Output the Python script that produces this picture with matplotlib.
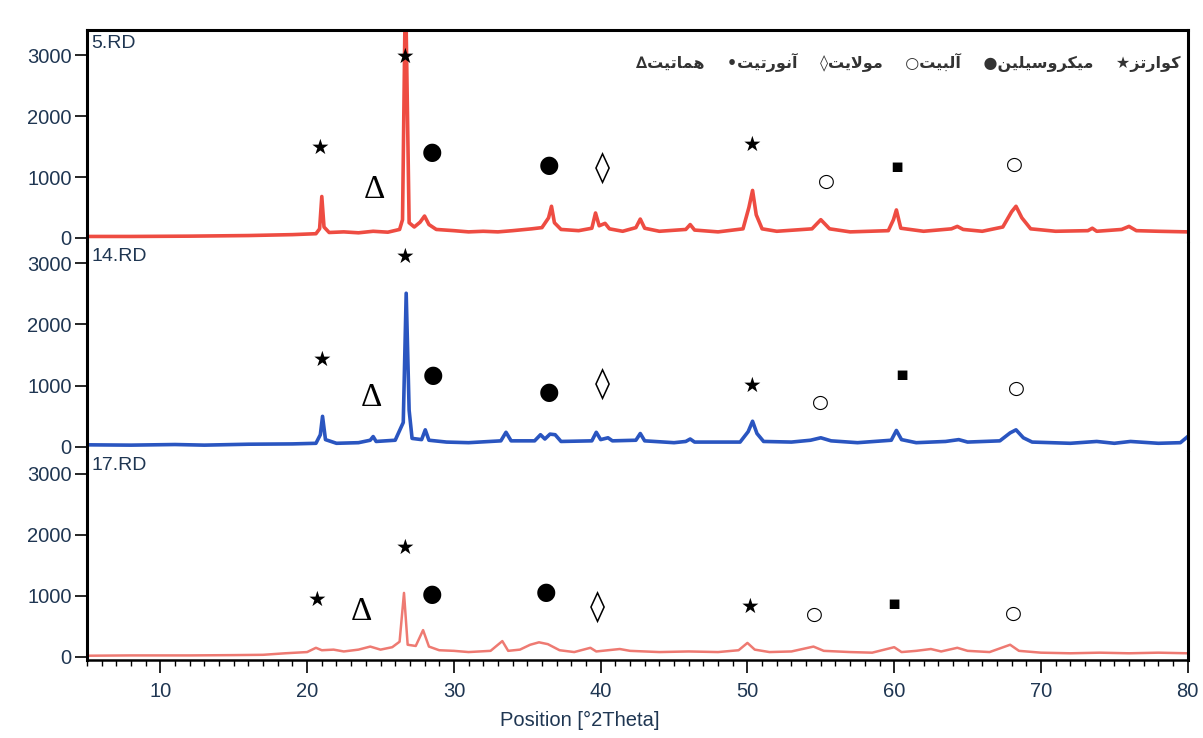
import numpy as np
import matplotlib
matplotlib.use("Agg")
import matplotlib.pyplot as plt
from matplotlib.ticker import MultipleLocator

plt.rcParams['font.family'] = ['Liberation Sans Narrow', 'Liberation Sans', 'DejaVu Sans']

# --- XRD patterns (2theta, counts) ---
tt_5 = [5, 8, 12, 16, 19, 20.6, 20.85, 21.0, 21.15, 21.5, 22.5, 23.5, 24.5, 25.5, 26.3, 26.5,
        26.7, 26.95, 27.3, 27.7, 28.0, 28.3, 28.8, 30, 31, 32, 33, 34, 35.3, 36.0, 36.45, 36.65,
        36.85, 37.3, 38.5, 39.4, 39.65, 39.9, 40.3, 40.6, 41.5, 42.4, 42.7, 43.0, 44, 45.8, 46.1,
        46.4, 48, 49.7, 50.1, 50.35, 50.6, 51.0, 52, 54.4, 55.0, 55.6, 57, 59.6, 59.95, 60.15,
        60.45, 62, 63.9, 64.3, 64.7, 66, 67.4, 68.0, 68.3, 68.7, 69.3, 71, 73.2, 73.5, 73.8,
        75.5, 76.0, 76.5, 78, 80]
cnt_5 = [25, 25, 30, 40, 55, 70, 150, 680, 180, 90, 100, 85, 110, 95, 140, 300,
         4200, 250, 180, 260, 360, 220, 140, 120, 100, 110, 100, 120, 150, 170, 330, 520,
         250, 140, 120, 160, 410, 200, 240, 150, 110, 170, 310, 160, 110, 140, 220,
         130, 100, 150, 500, 780, 380, 150, 110, 150, 300, 150, 100, 120, 300, 460,
         160, 110, 150, 190, 140, 110, 180, 430, 520, 330, 150, 110, 120, 160, 110,
         140, 190, 120, 110, 100]

tt_14 = [5, 8, 11, 13, 16, 19, 20.6, 20.9, 21.05, 21.25, 22, 23.5, 24.3, 24.5, 24.7, 26.0,
         26.55, 26.75, 26.95, 27.15, 27.8, 28.05, 28.3, 29.5, 31, 33.2, 33.55, 33.9, 35.5, 35.9,
         36.2, 36.55, 36.9, 37.3, 39.4, 39.7, 40.0, 40.5, 40.8, 42.4, 42.7, 43.0, 45, 45.8, 46.1,
         46.4, 49.5, 50.05, 50.35, 50.65, 51.1, 53, 54.3, 55.0, 55.7, 57.5, 59.8, 60.15, 60.5,
         61.5, 63.5, 64.4, 65, 67.2, 67.9, 68.3, 68.8, 69.4, 72, 73.8, 75, 76.1, 78, 79.5, 80]
cnt_14 = [35, 30, 40, 30, 45, 50, 60, 200, 500, 120, 60, 70, 110, 170, 90, 110,
          400, 2510, 600, 140, 120, 280, 110, 80, 70, 100, 240, 100, 100, 200,
          130, 210, 200, 90, 100, 240, 120, 150, 100, 110, 220, 100, 70, 90, 130,
          80, 80, 250, 420, 220, 90, 80, 110, 150, 100, 70, 110, 270, 120,
          70, 90, 120, 80, 100, 230, 280, 150, 80, 60, 90, 60, 90, 60, 70, 170]

tt_17 = [5, 8, 12, 15, 17, 18.5, 20.0, 20.6, 21.0, 21.8, 22.5, 23.5, 24.3, 25, 25.8, 26.3,
         26.6, 26.85, 27.4, 27.9, 28.3, 29, 30, 31, 32.5, 33.3, 33.7, 34.5, 35.2, 35.8, 36.4,
         37.2, 38.2, 39.3, 39.7, 40.5, 41.3, 42, 44, 46, 48, 49.4, 50.0, 50.5, 51.5, 53, 54.5,
         55.2, 57, 58.5, 60.0, 60.5, 61.5, 62.5, 63.2, 64.3, 65, 66.5, 67.9, 68.5, 70, 72, 74,
         76, 78, 80]
cnt_17 = [20, 25, 25, 30, 35, 60, 80, 150, 110, 120, 90, 120, 170, 120, 160, 250,
          1050, 200, 180, 440, 170, 110, 100, 80, 100, 260, 100, 120, 200, 240, 210,
          110, 80, 150, 90, 110, 130, 100, 80, 90, 80, 110, 230, 120, 80, 90, 170,
          100, 80, 70, 160, 80, 100, 130, 90, 150, 100, 80, 200, 100, 70, 60, 70,
          60, 70, 60]

# --- phase marks: symbol, 2theta, height ---
marks_5 = [('★', 20.9, 1475), ('★', 26.7, 2970), ('Δ', 24.6, 790), ('●', 28.5, 1410),
           ('●', 36.5, 1200), ('◊', 40.1, 1150), ('★', 50.3, 1525), ('○', 55.4, 920),
           ('▪', 60.2, 1180), ('○', 68.2, 1200)]
marks_14 = [('★', 26.7, 3100), ('★', 21.0, 1420), ('●', 28.6, 1175), ('Δ', 24.4, 800),
            ('●', 36.5, 900), ('◊', 40.1, 1030), ('★', 50.3, 995), ('○', 55.0, 720),
            ('▪', 60.5, 1190), ('○', 68.3, 960)]
marks_17 = [('★', 26.7, 1790), ('★', 20.7, 935), ('Δ', 23.7, 740), ('●', 28.5, 1035),
            ('●', 36.3, 1065), ('◊', 39.8, 820), ('★', 50.2, 820), ('○', 54.6, 690),
            ('▪', 60.0, 870), ('○', 68.1, 720)]

phases = ['کوارتز', 'میکروسیلین', 'آلبیت', 'مولایت', 'آنورتیت', 'هماتیت']
phase_syms = ['★', '●', '○', '◊', '•', '∆']

# Arabic-script shaping (matplotlib has no complex text layout)
FORMS = {
    'ا': ('\uFE8D', '\uFE8E', None, None),
    'آ': ('\uFE81', '\uFE82', None, None),
    'ب': ('\uFE8F', '\uFE90', '\uFE91', '\uFE92'),
    'ت': ('\uFE95', '\uFE96', '\uFE97', '\uFE98'),
    'ر': ('\uFEAD', '\uFEAE', None, None),
    'ز': ('\uFEAF', '\uFEB0', None, None),
    'س': ('\uFEB1', '\uFEB2', '\uFEB3', '\uFEB4'),
    'ل': ('\uFEDD', '\uFEDE', '\uFEDF', '\uFEE0'),
    'م': ('\uFEE1', '\uFEE2', '\uFEE3', '\uFEE4'),
    'ن': ('\uFEE5', '\uFEE6', '\uFEE7', '\uFEE8'),
    'ه': ('\uFEE9', '\uFEEA', '\uFEEB', '\uFEEC'),
    'و': ('\uFEED', '\uFEEE', None, None),
    'ک': ('\uFB8E', '\uFB8F', '\uFB90', '\uFB91'),
    'ی': ('\uFBFC', '\uFBFD', '\uFBFE', '\uFBFF'),
}


def shape(word):
    out = []
    i = 0
    while i < len(word):
        ch = word[i]
        prev = i > 0 and word[i - 1] in FORMS and FORMS[word[i - 1]][2] is not None
        if ch == 'ل' and i + 1 < len(word) and word[i + 1] == 'ا':
            out.append('\uFEFC' if prev else '\uFEFB')
            i += 2
            continue
        f = FORMS[ch]
        nxt = f[2] is not None and i + 1 < len(word) and word[i + 1] in FORMS
        if prev and nxt:
            out.append(f[3])
        elif prev:
            out.append(f[1])
        elif nxt:
            out.append(f[2])
        else:
            out.append(f[0])
        i += 1
    return ''.join(reversed(out))


legend_str = '    '.join(s + shape(p) for p, s in reversed(list(zip(phases, phase_syms))))

txt_col = '#1f3652'
fig = plt.figure(figsize=(12.03, 7.38), dpi=100)
left, width = 0.0723, 0.915
ax1 = fig.add_axes([left, 0.6734, width, 0.2859])
ax2 = fig.add_axes([left, 0.3902, width, 0.2805])
ax3 = fig.add_axes([left, 0.1057, width, 0.2818])

panels = [(ax1, tt_5, cnt_5, '#ee4c42', 2.6, marks_5, '5.RD', (-50, 3410)),
          (ax2, tt_14, cnt_14, '#2a55c0', 2.6, marks_14, '14.RD', (-50, 3330)),
          (ax3, tt_17, cnt_17, '#ee7a72', 1.8, marks_17, '17.RD', (-50, 3360))]

sym_size = {'★': 15, '●': 17, '◊': 22, '○': 14, '▪': 14, 'Δ': 24}
for ax, tt, cnt, col, lw, marks, name, ylim in panels:
    ax.plot(tt, cnt, color=col, lw=lw, solid_joinstyle='round')
    ax.set_xlim(5, 80)
    ax.set_ylim(*ylim)
    ax.set_yticks([0, 1000, 2000, 3000])
    ax.tick_params(axis='y', direction='out', length=9, width=1.2, labelsize=14.5,
                   labelcolor=txt_col, pad=2)
    for s in ['left', 'right']:
        ax.spines[s].set_linewidth(2.2)
    ax.spines['top'].set_visible(False)
    ax.spines['bottom'].set_visible(False)
    ax.tick_params(axis='x', bottom=False, labelbottom=False, which='both')
    ax.text(0.004, 0.975, name, transform=ax.transAxes, ha='left', va='top',
            fontsize=14, color=txt_col)
    for sym, x, y in marks:
        fam = ['Liberation Serif'] if sym == 'Δ' else ['DejaVu Sans']
        ax.text(x, y, sym, ha='center', va='center', fontsize=sym_size[sym],
                family=fam, color='black')

ax1.spines['top'].set_visible(True)
ax1.spines['top'].set_linewidth(2.2)
ax3.spines['bottom'].set_visible(True)
ax3.spines['bottom'].set_linewidth(1.8)
ax3.tick_params(axis='x', which='major', bottom=True, labelbottom=True, direction='out',
                length=9, width=1.2, labelsize=14.5, labelcolor=txt_col, pad=7)
ax3.tick_params(axis='x', which='minor', bottom=True, direction='out', length=4, width=1)
ax3.set_xticks([10, 20, 30, 40, 50, 60, 70, 80])
ax3.xaxis.set_minor_locator(MultipleLocator(1))
ax3.set_xlabel('Position [°2Theta]', fontsize=14.5, color=txt_col)
ax3.xaxis.set_label_coords(0.448, -0.245)

ax1.text(0.993, 0.848, legend_str, transform=ax1.transAxes, ha='right', va='center',
         fontsize=11.5, fontweight='bold', family=['DejaVu Sans'], color='#333333')

fig.savefig('out.png', dpi=100)
